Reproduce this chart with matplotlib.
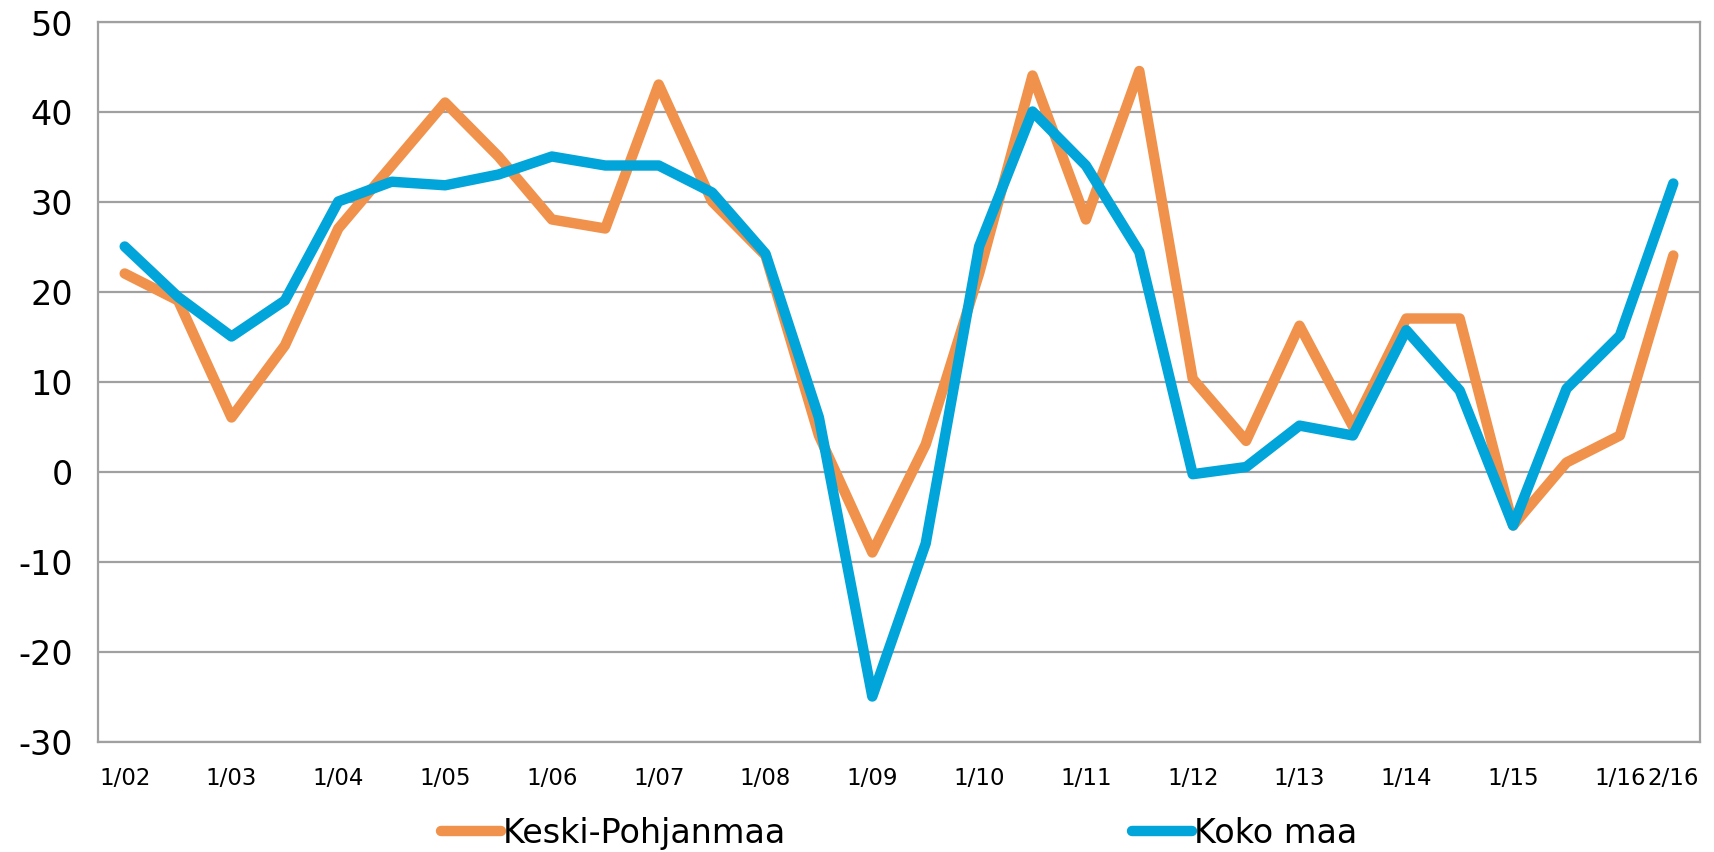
import matplotlib
matplotlib.use('Agg')
import matplotlib.pyplot as plt

plt.rcParams['axes.unicode_minus'] = False

# half-year points, label shown on every first half
periods = ['1/02', '', '1/03', '', '1/04', '', '1/05', '', '1/06', '',
           '1/07', '', '1/08', '', '1/09', '', '1/10', '', '1/11', '',
           '1/12', '', '1/13', '', '1/14', '', '1/15', '', '1/16', '2/16']

keski_pohjanmaa = [22, 19, 6, 14, 27, 34, 41, 35, 28, 27,
                   43, 30, 24, 4, -9, 3, 22, 44, 28, 44.5,
                   10.3, 3.4, 16.2, 5, 17, 17, -6, 1, 4, 24]

koko_maa = [25, 19.4, 15, 19, 30, 32.2, 31.8, 33, 35, 34,
            34, 31, 24.2, 6, -25, -8, 25, 40, 34, 24.4,
            -0.3, 0.5, 5.1, 4, 15.7, 9, -6, 9.2, 15.1, 32]

x = range(len(periods))

fig = plt.figure(figsize=(17.14, 8.53), dpi=100)
ax = fig.add_axes([98 / 1714, 1 - 742.5 / 853, 1602 / 1714, 720 / 853])

ax.plot(x, keski_pohjanmaa, color='#F0924C', lw=7.5, solid_capstyle='round',
        solid_joinstyle='round', label='Keski-Pohjanmaa')
ax.plot(x, koko_maa, color='#02A5D9', lw=7.5, solid_capstyle='round',
        solid_joinstyle='round', label='Koko maa')

ax.set_xlim(-0.5, len(periods) - 0.5)
ax.set_ylim(-30, 50)
ax.set_yticks(range(-30, 51, 10))
ax.set_xticks(list(x))
ax.set_xticklabels(periods, fontsize=16.5)
ax.tick_params(axis='y', labelsize=24, length=0, pad=18)
ax.tick_params(axis='x', length=0, pad=18)

ax.grid(axis='y', color='#A0A0A0', lw=1.6)
ax.set_axisbelow(True)
for s in ax.spines.values():
    s.set_color('#A0A0A0')
    s.set_linewidth(1.6)

fig.legend(loc='center', bbox_to_anchor=(899 / 1714, 19 / 853), ncol=2,
           frameon=False, fontsize=24, handlelength=1.8, handletextpad=0.05,
           columnspacing=10.4, borderpad=0)

fig.savefig('out.png', dpi=100)
